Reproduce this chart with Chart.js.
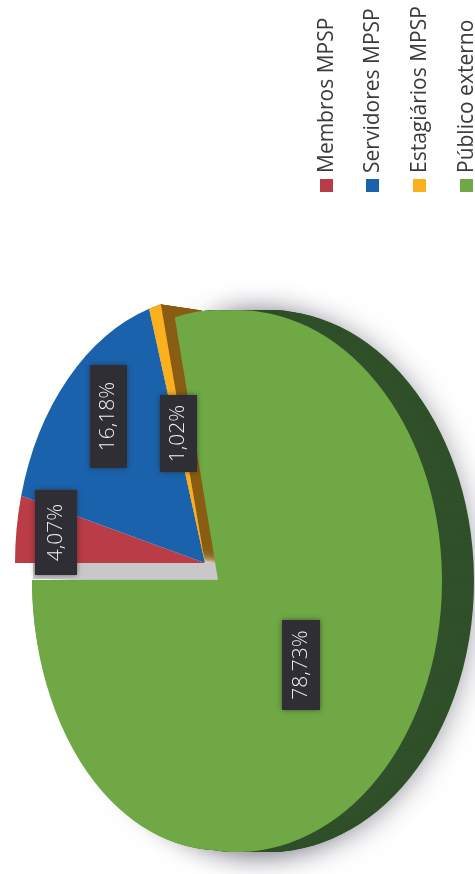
<!DOCTYPE html>
<html>
<head>
<meta charset="utf-8">
<script src="https://cdn.jsdelivr.net/npm/chart.js@4"></script>
<style>
html, body { margin: 0; padding: 0; background: #fff; }
canvas { display: block; }
</style>
</head>
<body>
<canvas id="pieChart" width="475" height="874"></canvas>
<script>
// dados
const categories = ['Membros MPSP', 'Servidores MPSP', 'Estagiários MPSP', 'Público externo'];
const shares = [4.07, 16.18, 1.02, 78.73];
const sliceColors = ['#B93C46', '#1B62AC', '#FBB01E', '#70A845'];

// aparencia do grafico em perspectiva
const BASE_R = 100;
const fontName = '"Open Sans", sans-serif';
const smallLens = { x: 205, y: 563, rx: 190, ry: 266 };
const greenLenses = [
    { x: 237, y: 581, rx: 205, ry: 271 },
    { x: 218, y: 580, rx: 186, ry: 270 }
];
const labelBoxes = [
    { left: 35, top: 490, w: 42, h: 85 },
    { left: 90, top: 365, w: 37, h: 103 },
    { left: 160, top: 395, w: 37, h: 77 },
    { left: 282, top: 620, w: 38, h: 90 }
];
const legendX = [333, 379, 426, 473];

// desenha um arco da chart com lente eliptica e cor opcional
function paintArc(ctx, arc, lens, color, dx, dy) {
    const original = arc.options;
    ctx.save();
    ctx.translate(lens.x + (dx || 0), lens.y + (dy || 0));
    ctx.scale(lens.rx / BASE_R, lens.ry / BASE_R);
    ctx.translate(-arc.x, -arc.y);
    if (color) {
        arc.options = Object.create(original, { backgroundColor: { value: color } });
    }
    arc.draw(ctx);
    arc.options = original;
    ctx.restore();
}

const tiltedPie = {
    id: 'tiltedPie',
    beforeDatasetsDraw(chart) {
        const ctx = chart.ctx;
        const arcs = chart.getDatasetMeta(0).data;
        const green = arcs[3];

        // sombra e lateral escura da fatia verde
        ctx.save();
        ctx.shadowColor = 'rgba(70, 65, 85, 0.5)';
        ctx.shadowBlur = 28;
        ctx.shadowOffsetY = 3;
        greenLenses.forEach(lens => paintArc(ctx, green, lens, '#30502A', 32, 0));
        ctx.restore();
        for (let i = 31; i > 0; i -= 1) {
            greenLenses.forEach(lens => paintArc(ctx, green, lens, '#30502A', i, 0));
        }

        // lateral marrom da fatia laranja
        for (let i = 41; i > 0; i -= 0.25) {
            paintArc(ctx, arcs[2], smallLens, '#8A5E14', i, i * 0.15);
        }

        // parede cinza abaixo da fatia vermelha
        ctx.fillStyle = '#C9C7C7';
        ctx.fillRect(33, 563, 186, 16);

        arcs.slice(0, 3).forEach(arc => paintArc(ctx, arc, smallLens));
        greenLenses.forEach(lens => paintArc(ctx, green, lens));
        return false;
    },
    afterDraw(chart) {
        const ctx = chart.ctx;

        // rotulos de porcentagem
        labelBoxes.forEach((box, i) => {
            ctx.save();
            ctx.shadowColor = 'rgba(30, 30, 30, 0.55)';
            ctx.shadowBlur = 5;
            ctx.fillStyle = '#2E2E34';
            ctx.fillRect(box.left, box.top, box.w, box.h);
            ctx.restore();
            ctx.save();
            ctx.translate(box.left + box.w / 2, box.top + box.h / 2);
            ctx.rotate(-Math.PI / 2);
            ctx.font = '300 21px ' + fontName;
            ctx.fillStyle = '#F2F2F2';
            ctx.textAlign = 'center';
            ctx.textBaseline = 'middle';
            ctx.fillText(shares[i].toFixed(2).replace('.', ',') + '%', 0, 0);
            ctx.restore();
        });

        // legenda girada
        categories.forEach((name, i) => {
            ctx.fillStyle = sliceColors[i];
            ctx.fillRect(legendX[i] - 13, 179, 13, 13);
            ctx.save();
            ctx.translate(legendX[i], 173);
            ctx.rotate(-Math.PI / 2);
            ctx.font = '21px ' + fontName;
            ctx.fillStyle = '#3A3A3A';
            ctx.textAlign = 'left';
            ctx.textBaseline = 'alphabetic';
            ctx.fillText(name, 0, 0);
            ctx.restore();
        });
    }
};

new Chart(document.getElementById('pieChart').getContext('2d'), {
    type: 'pie',
    data: {
        labels: categories,
        datasets: [{
            data: shares,
            backgroundColor: sliceColors,
            borderWidth: 0
        }]
    },
    options: {
        responsive: false,
        animation: false,
        rotation: -90,
        radius: BASE_R,
        plugins: {
            legend: { display: false },
            tooltip: { enabled: false }
        }
    },
    plugins: [tiltedPie]
});
</script>
</body>
</html>
